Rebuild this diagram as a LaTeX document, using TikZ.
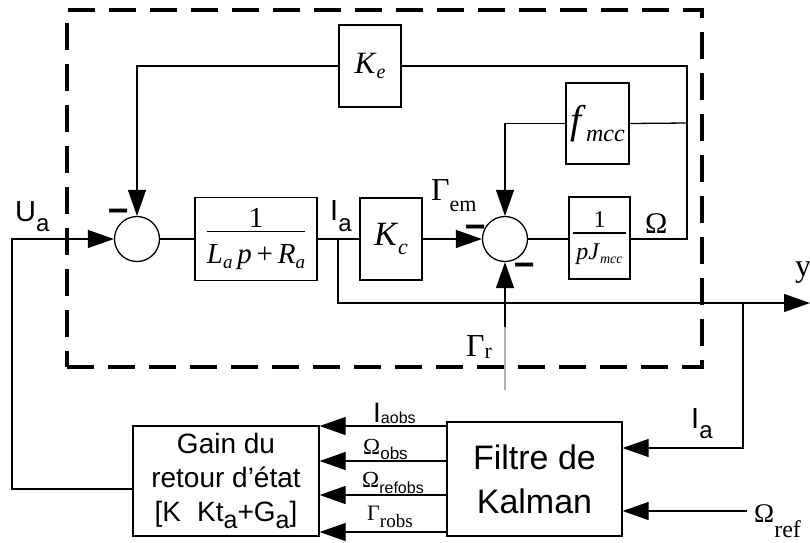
\documentclass[tikz,border=0pt]{standalone}
\usepackage{fontspec}
\setmainfont{Liberation Serif}
\newfontfamily\arial{Liberation Sans}
\usepackage{graphicx}
\usetikzlibrary{arrows.meta}
\newcommand\fs[1]{\fontsize{#1}{#1}\selectfont}
\newcommand\dn[3]{\raisebox{-#1pt}{\fs{#2}#3}}
\newcommand\fracx[5]{{\renewcommand\arraystretch{0.3}\setlength\arrayrulewidth{1.1pt}\setlength\tabcolsep{#5}\begin{tabular}{c}#1\\[#3]\hline\rule{0pt}{#4}#2\end{tabular}}}
\newcommand\minussign{{\arial\bfseries\fs{26}\scalebox{1.4}[1.5]{–}}}
\begin{document}
\begin{tikzpicture}[x=1pt,y=-1pt,
  blk/.style={draw,line width=1.3pt,inner sep=0pt},
  sumc/.style={draw,circle,line width=1.3pt,minimum size=45pt,inner sep=0pt},
  wire/.style={line width=1.3pt},
  arr/.style={wire,-{Triangle[length=26pt,width=18pt]}},
  lab/.style={inner sep=0pt,anchor=base west},
  sgn/.style={inner sep=0pt,anchor=base west},
  frame/.style={draw,line width=3.5pt,dash pattern=on 27pt off 14pt,inner sep=0pt}]
\useasboundingbox (0,0) rectangle (810,542);
% dashed frame
\node[frame,minimum width=635pt,minimum height=357pt] (box) at (384.5,188.5) {};
% blocks
\node[sumc] (s1) at (137,239) {};
\node[blk,minimum width=122pt,minimum height=83pt] (b1) at (256,239)
  {\fs{29}\fracx{1}{\textit{L}\dn{5}{19}{\textit{a}}\,\textit{p}\,+\,\textit{R}\dn{5}{19}{\textit{a}}}{1pt}{31pt}{0pt}};
\node[blk,minimum width=62pt,minimum height=82pt] (kc) at (391,239) {\fs{34}\textit{K}\dn{9}{22}{\textit{c}}};
\node[sumc] (s2) at (505,239) {};
\node[blk,minimum width=61pt,minimum height=82pt] (pj) at (599.5,238)
  {\fs{24}\fracx{1}{\textit{pJ}\dn{4}{14}{\textit{mcc}}}{3pt}{26pt}{3pt}};
\node[blk,minimum width=62pt,minimum height=82pt] (ke) at (370,66) {\fs{31}\textit{K}\dn{5}{20}{\textit{e}}};
\node[blk,minimum width=63pt,minimum height=81pt] (fm) at (597.5,123.5) {\fs{40}\textit{f}\dn{8}{24}{\textit{mcc}}};
\node[blk,minimum width=175pt,minimum height=114pt,align=center,font=\arial\fontsize{34}{44}\selectfont] (kal) at (534.5,479) {Filtre de\\Kalman};
\node[blk,minimum width=186pt,minimum height=110pt,align=center,font=\arial\fontsize{28}{34}\selectfont] (gain) at (226,481)
  {Gain du\\retour d’état\\{[}K\hspace{16pt}Kt\dn{7}{25}{a}+G\dn{7}{25}{a}{]}};
% coordinates
\coordinate (fb) at (12,489);
\coordinate (br) at (338,239);
\coordinate (rc) at (687,239);
\coordinate (rf) at (687,123);
\coordinate (yend) at (810,303);
\coordinate (tap) at (743,303);
\coordinate (tap2) at (743,448);
\coordinate (oref) at (747,511);
\coordinate (grb) at (505,390);
\coordinate (grt) at (505,327);
\coordinate (o1) at (400,426);
\coordinate (o2) at (400,461);
\coordinate (o3) at (400,495);
\coordinate (o4) at (400,532);
% connectors
\draw[arr] (gain.west |- fb) -- (fb) |- (s1.west);
\draw[wire] (s1.east) -- (b1.west);
\draw[wire] (b1.east) -- (kc.west);
\draw[arr] (kc.east) -- (s2.west);
\draw[wire] (s2.east) -- (s2.east -| pj.west);
\draw[wire] (pj.east |- rc) -- (rc) |- (ke.east);
\draw[arr] (ke.west) -| (s1.north);
\draw[wire] (rf) -- (fm.east);
\draw[arr] (fm.west) -| (s2.north);
\draw[arr] (br) |- (yend);
\draw[arr] (tap) -- (tap2) -- (kal.east |- tap2);
\draw[arr] (oref) -- (kal.east |- oref);
\draw[gray!60,line width=1.2pt] (grb) -- (grt);
\draw[arr] (grt) -- (s2.south);
\draw[arr] (kal.west |- o1) -- (gain.east |- o1);
\draw[arr] (kal.west |- o2) -- (gain.east |- o2);
\draw[arr] (kal.west |- o3) -- (gain.east |- o3);
\draw[arr] (kal.west |- o4) -- (gain.east |- o4);
% signs
\node[sgn] (m1) at (108,221) {\minussign};
\node[sgn] (m2) at (465,237) {\minussign};
\node[sgn] (m3) at (514,275) {\minussign};
% labels
\node[lab] (lua) at (15,221) {\arial\fs{29}U\dn{10}{24}{a}};
\node[lab] (lia) at (330,220) {\arial\fs{29}I\dn{11}{24}{a}};
\node[lab] (lgem) at (431,200) {\fs{32}Γ\dn{11}{22}{em}};
\node[lab] (lom) at (645,233) {\fs{30}Ω};
\node[lab] (lgr) at (466,356) {\fs{32}Γ\dn{2}{22}{r}};
\node[lab] (ly) at (795,276) {\fs{32}y};
\node[lab] (lia2) at (691,428) {\arial\fs{29}I\dn{10}{24}{a}};
\node[lab] (lor) at (754,522) {\fs{27}Ω\dn{15}{24}{ref}};
\node[lab] (l1) at (373,422) {\arial\fs{28}I\dn{1}{16}{aobs}};
\node[lab] (l2) at (363,454) {\fs{23}Ω\dn{5}{17}{\arial obs}};
\node[lab] (l3) at (362,487) {\fs{23}Ω\dn{6}{16}{\arial refobs}};
\node[lab] (l4) at (367,520) {\fs{22}Γ\dn{7}{19}{robs}};
\end{tikzpicture}
\end{document}
